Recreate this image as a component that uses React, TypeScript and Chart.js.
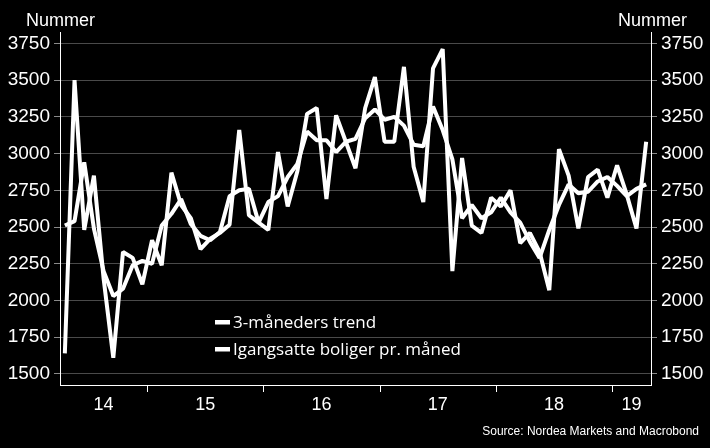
import React, { useEffect, useRef } from 'react';
import { Chart, registerables } from 'chart.js';

Chart.register(...registerables);

const categories = [
  '2014-04', '2014-05', '2014-06', '2014-07', '2014-08', '2014-09', '2014-10', '2014-11', '2014-12',
  '2015-01', '2015-02', '2015-03', '2015-04', '2015-05', '2015-06', '2015-07', '2015-08', '2015-09', '2015-10', '2015-11', '2015-12',
  '2016-01', '2016-02', '2016-03', '2016-04', '2016-05', '2016-06', '2016-07', '2016-08', '2016-09', '2016-10', '2016-11', '2016-12',
  '2017-01', '2017-02', '2017-03', '2017-04', '2017-05', '2017-06', '2017-07', '2017-08', '2017-09', '2017-10', '2017-11', '2017-12',
  '2018-01', '2018-02', '2018-03', '2018-04', '2018-05', '2018-06', '2018-07', '2018-08', '2018-09', '2018-10', '2018-11', '2018-12',
  '2019-01', '2019-02', '2019-03', '2019-04',
];

const trend = [
  2510, 2540, 2940, 2490, 2200, 2030, 2080, 2240, 2270,
  2250, 2510, 2590, 2690, 2520, 2440, 2410, 2465, 2710, 2750, 2760, 2530,
  2670, 2710, 2840, 2930, 3150, 3090, 3090, 3010, 3080, 3100, 3240, 3300,
  3230, 3250, 3190, 3060, 3050, 3320, 3160, 2960, 2560, 2650, 2560, 2600,
  2700, 2600, 2530, 2400, 2290, 2480, 2650, 2790, 2730, 2740, 2810, 2840,
  2780, 2710, 2760, 2790,
];

const monthly = [
  1640, 3500, 2480, 2850, 2150, 1610, 2330, 2290, 2110,
  2410, 2240, 2870, 2650, 2560, 2350, 2420, 2460, 2515, 3160, 2580, 2530,
  2480, 3010, 2640, 2880, 3270, 3310, 2690, 3260, 3080, 2900, 3310, 3520,
  3080, 3080, 3590, 2910, 2670, 3580, 3710, 2200, 2970, 2510, 2460, 2700,
  2640, 2750, 2390, 2460, 2330, 2070, 3030, 2850, 2490, 2840, 2890, 2700,
  2920, 2720, 2490, 3080,
];

const yTicks = [1500, 1750, 2000, 2250, 2500, 2750, 3000, 3250, 3500, 3750];
const yearLabels = ['14', '15', '16', '17', '18', '19'];
const yearStarts = ['2015-01', '2016-01', '2017-01', '2018-01', '2019-01'];
const seriesNames = ['3-måneders trend', 'Igangsatte boliger pr. måned'];
const axisTitle = 'Nummer';
const sourceText = 'Source: Nordea Markets and Macrobond';

const axisFont = "'Liberation Sans', Arial, sans-serif";
const legendFont = "'Open Sans', 'Noto Sans', sans-serif";

const overlay = {
  id: 'overlay',
  beforeDraw(chart: any) {
    const { ctx, width, height } = chart;
    ctx.save();
    ctx.fillStyle = '#000';
    ctx.fillRect(0, 0, width, height);
    ctx.restore();
  },
  afterDraw(chart: any) {
    const { ctx, chartArea: a } = chart;
    const xs = chart.scales.x;
    ctx.save();
    const bounds = yearStarts.map((lab) => {
      const i = categories.indexOf(lab);
      return (xs.getPixelForValue(i - 1) + xs.getPixelForValue(i)) / 2;
    });
    ctx.strokeStyle = '#ffffff';
    ctx.lineWidth = 1;
    bounds.forEach((bx) => {
      const px = Math.round(bx) + 0.5;
      ctx.beginPath();
      ctx.moveTo(px, a.bottom);
      ctx.lineTo(px, a.bottom + 7);
      ctx.stroke();
    });
    const edges = [a.left, ...bounds, a.right];
    ctx.fillStyle = '#ffffff';
    ctx.font = `18px ${axisFont}`;
    ctx.textAlign = 'center';
    ctx.textBaseline = 'alphabetic';
    yearLabels.forEach((lab, i) => {
      const cx = (edges[i] + edges[i + 1]) / 2;
      ctx.fillText(lab, cx, a.bottom + 25);
    });
    ctx.font = `18px ${axisFont}`;
    ctx.textAlign = 'left';
    ctx.fillText(axisTitle, 26, 26);
    ctx.textAlign = 'right';
    ctx.fillText(axisTitle, 687, 26);
    ctx.font = `12px ${axisFont}`;
    ctx.textAlign = 'right';
    ctx.fillText(sourceText, 699, 435);
    ctx.font = `17px ${legendFont}`;
    ctx.textAlign = 'left';
    const rows = [322, 349];
    seriesNames.forEach((name, i) => {
      ctx.fillRect(215, rows[i] - 2, 15, 4.5);
      ctx.fillText(name, 233, rows[i] + 6);
    });
    ctx.restore();
  },
};

export default function App() {
  const ref = useRef<HTMLCanvasElement | null>(null);

  useEffect(() => {
    document.body.style.margin = '0';
    document.body.style.background = '#000';
    const canvas = ref.current;
    if (!canvas) return;
    const chart = new Chart(canvas, {
      type: 'line',
      data: {
        labels: categories,
        datasets: [
          {
            label: seriesNames[0],
            data: trend,
            borderColor: '#ffffff',
            borderWidth: 4,
            borderJoinStyle: 'bevel',
            pointRadius: 0,
            tension: 0,
            yAxisID: 'y',
          },
          {
            label: seriesNames[1],
            data: monthly,
            borderColor: '#ffffff',
            borderWidth: 4,
            borderJoinStyle: 'bevel',
            pointRadius: 0,
            tension: 0,
            yAxisID: 'y',
          },
        ],
      },
      options: {
        animation: false,
        responsive: false,
        devicePixelRatio: 1,
        layout: { padding: { top: 32, left: 0, right: 0, bottom: 0 } },
        plugins: { legend: { display: false }, tooltip: { enabled: false }, title: { display: false } },
        scales: {
          x: {
            type: 'category',
            offset: true,
            ticks: { display: false },
            grid: { display: false },
            border: { display: true, color: '#ffffff', width: 1 },
            afterFit: (s: any) => {
              s.height = 63;
            },
          },
          y: {
            position: 'left',
            min: 1425,
            max: 3827,
            afterBuildTicks: (s: any) => {
              s.ticks = yTicks.map((v) => ({ value: v }));
            },
            afterFit: (s: any) => {
              s.width = 60;
            },
            grid: { color: '#4a4a4a', lineWidth: 1, drawTicks: true, tickLength: 6, tickColor: '#8a8a8a' },
            border: { display: true, color: '#ffffff', width: 1 },
            ticks: {
              color: '#ffffff',
              padding: 4,
              font: { family: axisFont, size: 19 },
              callback: (v: any) => String(v),
            },
          },
          y2: {
            position: 'right',
            min: 1425,
            max: 3827,
            afterBuildTicks: (s: any) => {
              s.ticks = yTicks.map((v) => ({ value: v }));
            },
            afterFit: (s: any) => {
              s.width = 59;
            },
            grid: { drawOnChartArea: false, drawTicks: true, tickLength: 6, tickColor: '#8a8a8a' },
            border: { display: true, color: '#ffffff', width: 1 },
            ticks: {
              color: '#ffffff',
              padding: 4,
              font: { family: axisFont, size: 19 },
              callback: (v: any) => String(v),
            },
          },
        },
      },
      plugins: [overlay],
    });
    return () => chart.destroy();
  }, []);

  return (
    <div style={{ width: 710, height: 448, background: '#000' }}>
      <canvas ref={ref} width={710} height={448} style={{ display: 'block', width: 710, height: 448 }} />
    </div>
  );
}
